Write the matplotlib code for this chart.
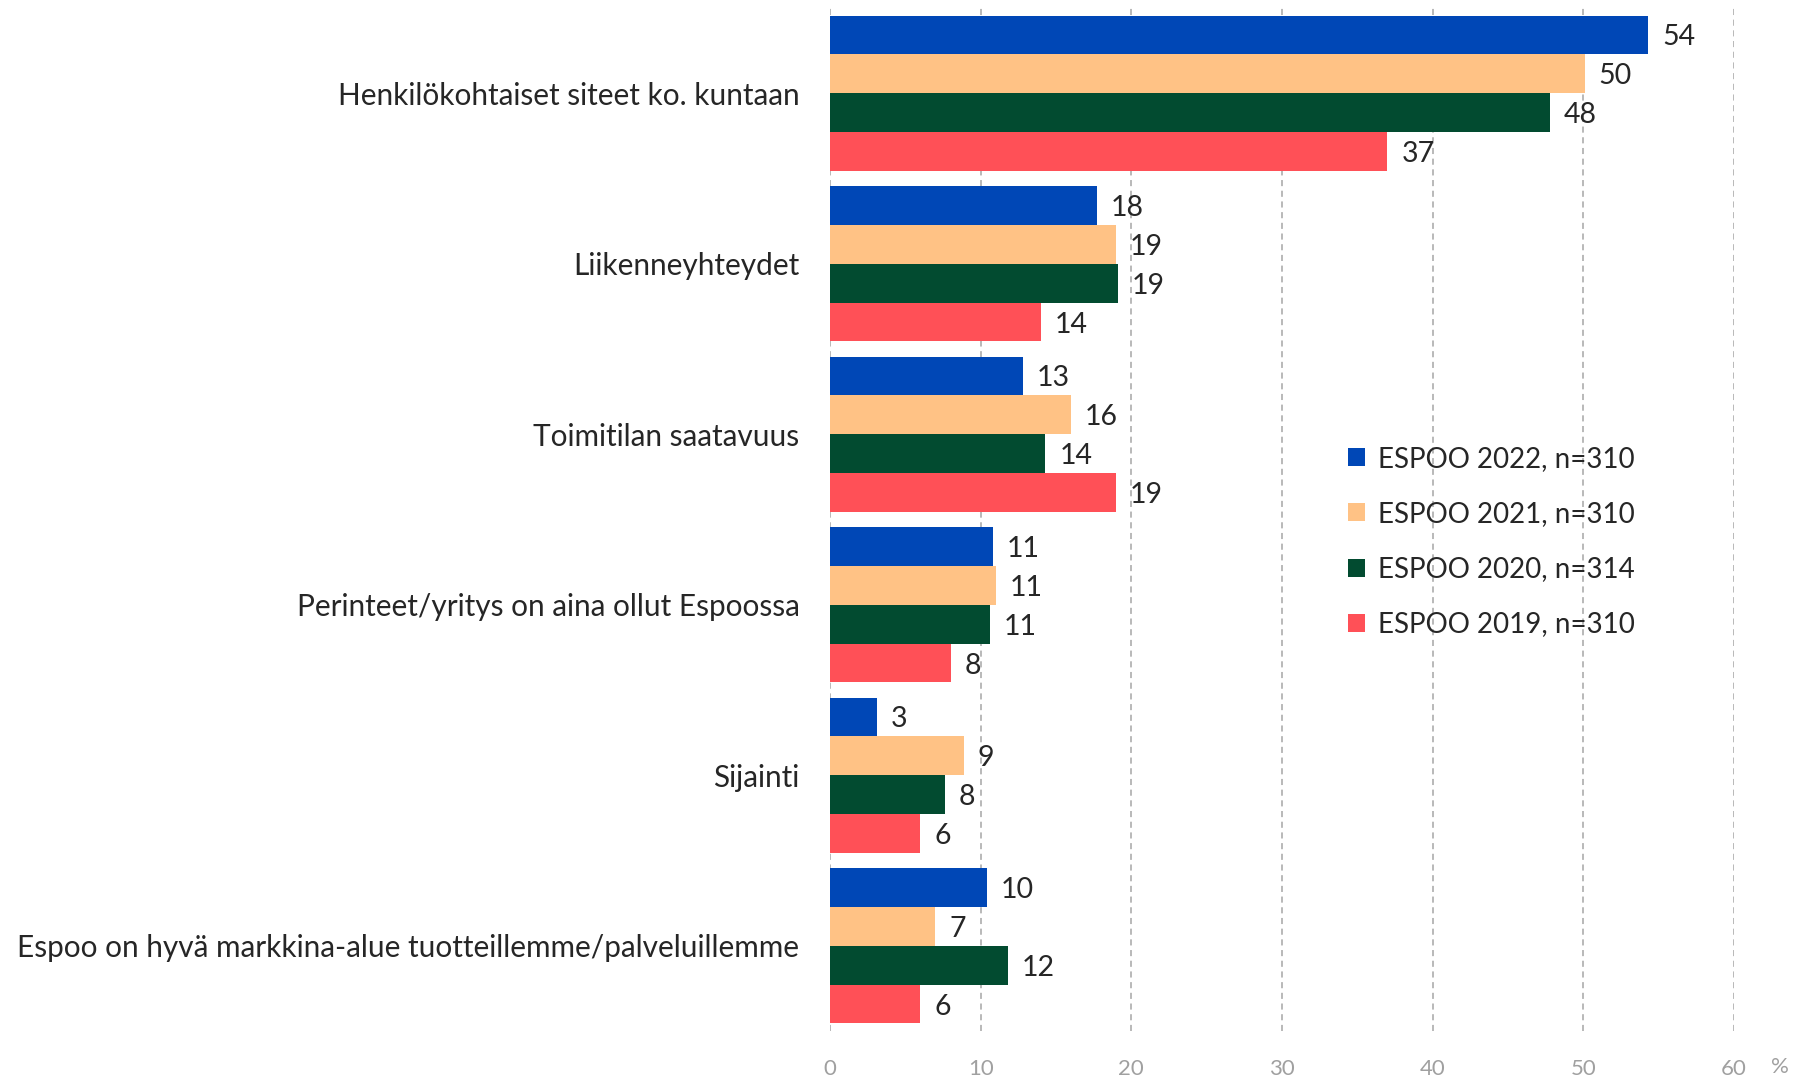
import matplotlib
matplotlib.use("Agg")
import matplotlib.pyplot as plt
from matplotlib.patches import Patch
import numpy as np

plt.rcParams['font.family'] = ['Lato', 'DejaVu Sans']

categories = [
    "Henkilökohtaiset siteet ko. kuntaan",
    "Liikenneyhteydet",
    "Toimitilan saatavuus",
    "Perinteet/yritys on aina ollut Espoossa",
    "Sijainti",
    "Espoo on hyvä markkina-alue tuotteillemme/palveluillemme",
]
series_names = ["ESPOO 2022, n=310", "ESPOO 2021, n=310", "ESPOO 2020, n=314", "ESPOO 2019, n=310"]
espoo_2022 = [54.3, 17.7, 12.8, 10.8, 3.1, 10.4]
espoo_2021 = [50.1, 19.0, 16.0, 11.0, 8.9, 7.0]
espoo_2020 = [47.8, 19.1, 14.3, 10.6, 7.6, 11.8]
espoo_2019 = [37.0, 14.0, 19.0, 8.0, 6.0, 6.0]
xticks = [0, 10, 20, 30, 40, 50, 60]

series = [espoo_2022, espoo_2021, espoo_2020, espoo_2019]
colors = ["#0047B6", "#FFC285", "#024B30", "#FF5057"]

W, H = 1803, 1079
fig = plt.figure(figsize=(W / 100, H / 100), dpi=100)
ax_left, ax_right, ax_top, ax_bot = 830, 1734, 8, 1031
ax = fig.add_axes([ax_left / W, 1 - ax_bot / H, (ax_right - ax_left) / W, (ax_bot - ax_top) / H])

n = len(categories)
bh = 0.228
y = np.arange(n)
for k, (vals, c) in enumerate(zip(series, colors)):
    pos = y + (k - 1.5) * bh
    ax.barh(pos, vals, height=bh, color=c, zorder=3, label=series_names[k])
    for p, v in zip(pos, vals):
        ax.annotate(f"{round(v):d}", (v, p), xytext=(10, 0), textcoords="offset points",
                    ha="left", va="center_baseline", fontsize=20.5, color="#262626", zorder=4)

ax.set_xlim(0, 60)
ax.set_ylim(n - 0.5, -0.5)
ax.set_yticks(y)
ax.set_yticklabels(categories, fontsize=21.4, color="#262626")
ax.set_xticks(xticks)
ax.set_xticklabels([str(t) for t in xticks], fontsize=16, color="#A0A0A0")
ax.tick_params(axis="both", length=0)
ax.tick_params(axis="y", pad=22)
ax.tick_params(axis="x", pad=20)
for s in ax.spines.values():
    s.set_visible(False)
ax.grid(axis="x", color="#A6A6A6", linestyle=(0, (4, 3)), linewidth=1.1, zorder=0)
ax.set_axisbelow(True)

fig.text(1780 / W, 1 - 1067 / H, "%", fontsize=16, color="#A0A0A0", ha="center", va="center")

handles = [Patch(facecolor=c, edgecolor="none") for c in colors]
fig.legend(handles, series_names, loc="upper left", bbox_to_anchor=(1348 / W, 1 - 446 / H),
           frameon=False, fontsize=20, handlelength=0.62, handleheight=0.62,
           handletextpad=0.45, labelspacing=1.05, borderpad=0, borderaxespad=0,
           labelcolor="#262626")

fig.savefig("out.png", dpi=100)
